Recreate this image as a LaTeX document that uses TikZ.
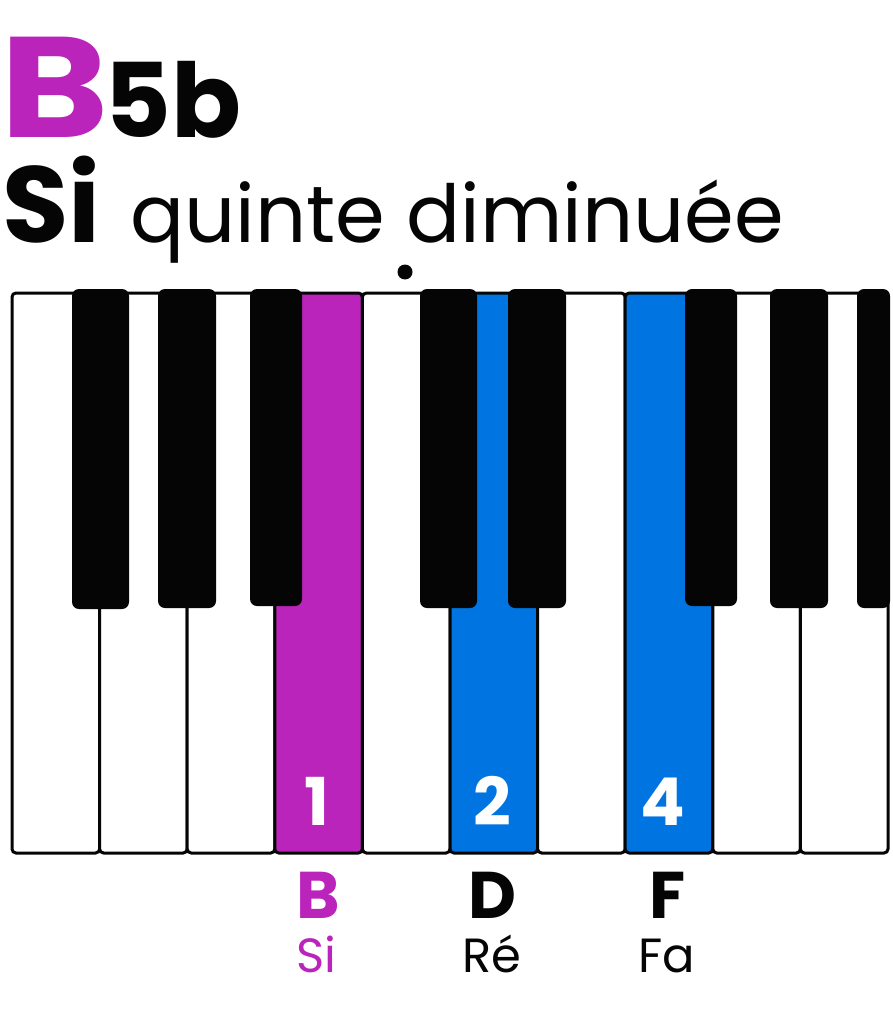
\documentclass[tikz,border=0pt]{standalone}
\usepackage{fontspec}
\setmainfont{Poppins}
\usepackage{tikz}
\definecolor{siMagenta}{HTML}{BB24BB}
\definecolor{chordBlue}{HTML}{0074E0}
\definecolor{keyBlack}{HTML}{050505}

\begin{document}
\begin{tikzpicture}[x=1pt,y=-1pt,
    whitekey/.style={draw=keyBlack, line width=3pt, rounded corners=4pt},
    blackkey/.style={fill=keyBlack, rounded corners=7pt},
    title/.style={anchor=base west, inner sep=0pt, text depth=0pt},
    finger/.style={text=white, font=\bfseries\fontsize{66}{66}\selectfont, anchor=base, inner sep=0pt},
    letter/.style={font=\bfseries\fontsize{66}{66}\selectfont, anchor=base, inner sep=0pt},
    solfa/.style={font=\fontsize{48}{48}\selectfont, anchor=base, inner sep=0pt}]

    \fill[white] (0,0) rectangle (892,1024);
    \useasboundingbox (0,0) rectangle (892,1024);

    % title
    \node[title, xscale=1.15, text height=100pt, text=siMagenta, font=\bfseries\fontsize{143}{143}\selectfont] (chordname) at (0,138) {B};
    \node[title, text height=78pt, text=keyBlack, font=\bfseries\fontsize{103}{103}\selectfont] (chordsuffix) at (104,138) {5b};
    \node[title, text height=82pt, text=keyBlack, font=\bfseries\fontsize{108}{108}\selectfont] (frname) at (2,243) {Si};
    \node[title, text=keyBlack, font=\fontsize{80}{80}\selectfont] (frquality) at (130,243) {quinte diminuée};
    \fill[keyBlack] (405,272) circle (7.5);

    % white keys
    \foreach \k/\col in {0/white,1/white,2/white,3/siMagenta,4/white,5/chordBlue,6/white,7/chordBlue,8/white,9/white}
        \draw[whitekey, fill=\col] ({12+87.6*\k},293) rectangle ({12+87.6*(\k+1)},853);

    % black keys
    \foreach \l/\r/\b in {72/129/609, 158/216/608, 250/302/606, 420/477/608, 508/566/608, 685/737/606, 770/828/608, 857/890/608}
        \fill[blackkey] (\l,289) rectangle (\r,\b);

    % fingers
    \node[finger] (f1) at (317,825) {1};
    \node[finger] (f2) at (492,825) {2};
    \node[finger] (f4) at (663,825) {4};

    % note names
    \node[letter, text=siMagenta] (nB) at (318,918) {B};
    \node[letter, text=keyBlack] (nD) at (492,918) {D};
    \node[letter, text=keyBlack] (nF) at (668,918) {F};
    \node[solfa, text=siMagenta] (sSi) at (316,972) {Si};
    \node[solfa, text=keyBlack] (sRe) at (492,972) {Ré};
    \node[solfa, text=keyBlack] (sFa) at (667,972) {Fa};

\end{tikzpicture}
\end{document}
